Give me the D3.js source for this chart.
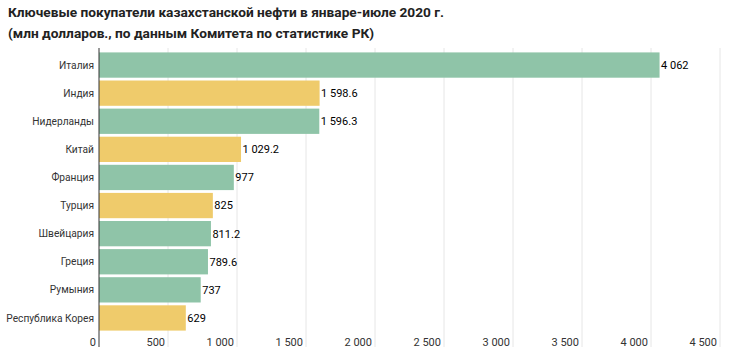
<!DOCTYPE html>
<html><head><meta charset="utf-8">
<script src="https://cdn.jsdelivr.net/npm/d3@7"></script>
<style>
body{margin:0;background:#fff;font-family:Roboto,sans-serif;}
</style></head>
<body>
<svg id="c" width="730" height="355"></svg>
<script>
const categories = ["Италия","Индия","Нидерланды","Китай","Франция","Турция","Швейцария","Греция","Румыния","Республика Корея"];
const values = [4062,1598.6,1596.3,1029.2,977,825,811.2,789.6,737,629];
const valueLabels = ["4 062","1 598.6","1 596.3","1 029.2","977","825","811.2","789.6","737","629"];
const groups = ["g","y","g","y","g","y","g","g","g","y"];
const ticks = [0,500,1000,1500,2000,2500,3000,3500,4000,4500];
const titleLines = ["Ключевые покупатели казахстанской нефти в январе-июле 2020 г.","(млн долларов., по данным Комитета по статистике РК)"];

(function(){
const colors = {g:"#8fc4a8", y:"#efcb6b"};
const svg = d3.select("#c");
const mLeft = 99, mRight = 720, mTop = 51, mBottom = 332;
const x = d3.scaleLinear().domain([0,4500]).range([mLeft,mRight]);
const y = d3.scaleBand().domain(categories).range([mTop,mBottom]).paddingInner(0.1).paddingOuter(0.05);

svg.selectAll("text.title").data(titleLines).join("text")
  .attr("x",8).attr("y",(d,i)=>17+i*21)
  .attr("font-size",13.7).attr("font-weight",700).attr("fill","#222")
  .text(d=>d);

svg.append("g").selectAll("line").data(ticks.slice(1)).join("line")
  .attr("x1",d=>x(d)).attr("x2",d=>x(d)).attr("y1",mTop-3).attr("y2",347)
  .attr("stroke","#e6e6e6").attr("stroke-width",1);

svg.append("g").selectAll("text").data(ticks).join("text")
  .attr("x",d=>x(d)-3).attr("y",346).attr("text-anchor","end")
  .attr("font-size",11).attr("fill","#333")
  .text(d=>d3.format(",")(d).replace(/,/g," "));

svg.append("g").selectAll("rect").data(categories).join("rect")
  .attr("x",x(0)).attr("y",d=>y(d))
  .attr("width",(d,i)=>x(values[i])-x(0)).attr("height",y.bandwidth())
  .attr("fill",(d,i)=>colors[groups[i]]);

svg.append("g").selectAll("text").data(categories).join("text")
  .attr("x",(d,i)=>x(values[i])+1.5).attr("y",d=>y(d)+y.bandwidth()/2)
  .attr("dy","0.35em").attr("font-size",11).attr("font-weight",400).attr("fill","#000")
  .text((d,i)=>valueLabels[i]);

svg.append("g").selectAll("text").data(categories).join("text")
  .attr("x",mLeft-5).attr("y",d=>y(d)+y.bandwidth()/2)
  .attr("dy","0.35em").attr("text-anchor","end").attr("font-size",10.2).attr("fill","#333")
  .text(d=>d);

svg.append("line").attr("x1",mLeft).attr("x2",mLeft).attr("y1",mTop-3).attr("y2",347)
  .attr("stroke","#333").attr("stroke-width",1);
})();
</script>
</body></html>
